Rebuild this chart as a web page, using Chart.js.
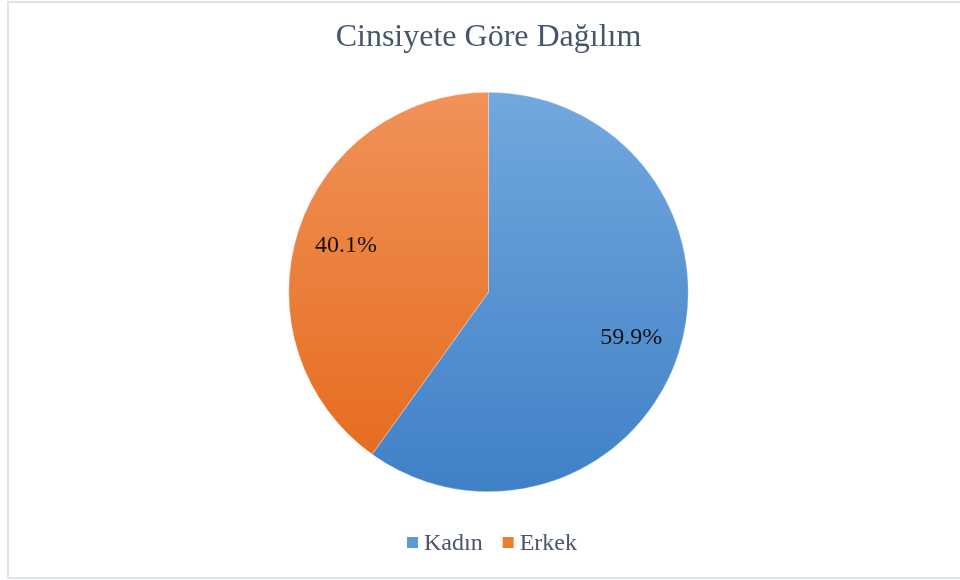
<!DOCTYPE html>
<html>
<head>
<meta charset="utf-8">
<script src="https://cdn.jsdelivr.net/npm/chart.js@4/dist/chart.umd.min.js"></script>
<style>
  html, body { margin: 0; padding: 0; background: #ffffff; }
  #wrap { position: relative; width: 960px; height: 580px; }
</style>
</head>
<body>
<div id="wrap"><canvas id="c" width="960" height="580"></canvas></div>
<script>
const categories = ["Kadın", "Erkek"];
const values = [59.9, 40.1];
const chartTitle = "Cinsiyete Göre Dağılım";

const gradStops = [
  ["#72a8de", "#3f80c6"],
  ["#f19259", "#e4691a"]
];
const legendSwatch = ["#5b9bd5", "#ed7d31"];
const SERIF = '"Liberation Serif", "Times New Roman", serif';

function sliceFill(context) {
  const chart = context.chart;
  const area = chart.chartArea;
  const stops = gradStops[context.dataIndex % gradStops.length];
  if (!area) return stops[1];
  const g = chart.ctx.createLinearGradient(0, area.top, 0, area.bottom);
  g.addColorStop(0, stops[0]);
  g.addColorStop(1, stops[1]);
  return g;
}

const framePlugin = {
  id: 'frame',
  beforeDraw(chart) {
    const c = chart.ctx;
    c.save();
    c.fillStyle = '#ffffff';
    c.fillRect(0, 0, chart.width, chart.height);
    c.strokeStyle = '#dde2e9';
    c.lineWidth = 2;
    c.strokeRect(8, 2, 960, 576);
    c.restore();
  }
};

const labelPlugin = {
  id: 'sliceLabels',
  afterDatasetsDraw(chart) {
    const meta = chart.getDatasetMeta(0);
    const data = chart.data.datasets[0].data;
    const total = data.reduce((a, b) => a + b, 0);
    const c = chart.ctx;
    c.save();
    c.font = '24px ' + SERIF;
    c.fillStyle = '#111111';
    c.textAlign = 'center';
    c.textBaseline = 'middle';
    meta.data.forEach((arc, i) => {
      const p = arc.getProps(['x', 'y', 'startAngle', 'endAngle', 'outerRadius'], true);
      const mid = (p.startAngle + p.endAngle) / 2;
      const r = p.outerRadius * 0.75;
      const x = p.x + Math.cos(mid) * r;
      const y = p.y + Math.sin(mid) * r;
      const pct = (data[i] / total * 100).toFixed(1) + '%';
      c.fillText(pct, x, y);
    });
    c.restore();
  }
};

const legendPlugin = {
  id: 'bottomLegend',
  afterDraw(chart) {
    const c = chart.ctx;
    const labels = chart.data.labels;
    c.save();
    c.font = '24px ' + SERIF;
    const box = 11, gapBox = 6, gapItem = 20;
    const widths = labels.map(l => c.measureText(l).width);
    let total = 0;
    widths.forEach((w, i) => { total += box + gapBox + w + (i < widths.length - 1 ? gapItem : 0); });
    let x = 492 - total / 2;
    const baseline = 550;
    labels.forEach((l, i) => {
      c.fillStyle = legendSwatch[i];
      c.fillRect(x, 537, box, box);
      x += box + gapBox;
      c.fillStyle = '#4a5568';
      c.textAlign = 'left';
      c.textBaseline = 'alphabetic';
      c.fillText(l, x, baseline);
      x += widths[i] + gapItem;
    });
    c.restore();
  }
};

new Chart(document.getElementById('c'), {
  type: 'pie',
  data: {
    labels: categories,
    datasets: [{
      data: values,
      backgroundColor: sliceFill,
      borderColor: 'rgba(255,255,255,0.6)',
      borderWidth: 0.5
    }]
  },
  options: {
    responsive: false,
    animation: false,
    events: [],
    layout: { padding: { left: 17, right: 0, top: 0, bottom: 88 } },
    plugins: {
      title: {
        display: true,
        text: chartTitle,
        color: '#46566c',
        font: { family: SERIF, size: 32, weight: 'normal', lineHeight: 1.2 },
        padding: { top: 18, bottom: 35.6 }
      },
      legend: { display: false },
      tooltip: { enabled: false }
    }
  },
  plugins: [framePlugin, labelPlugin, legendPlugin]
});
</script>
</body>
</html>
